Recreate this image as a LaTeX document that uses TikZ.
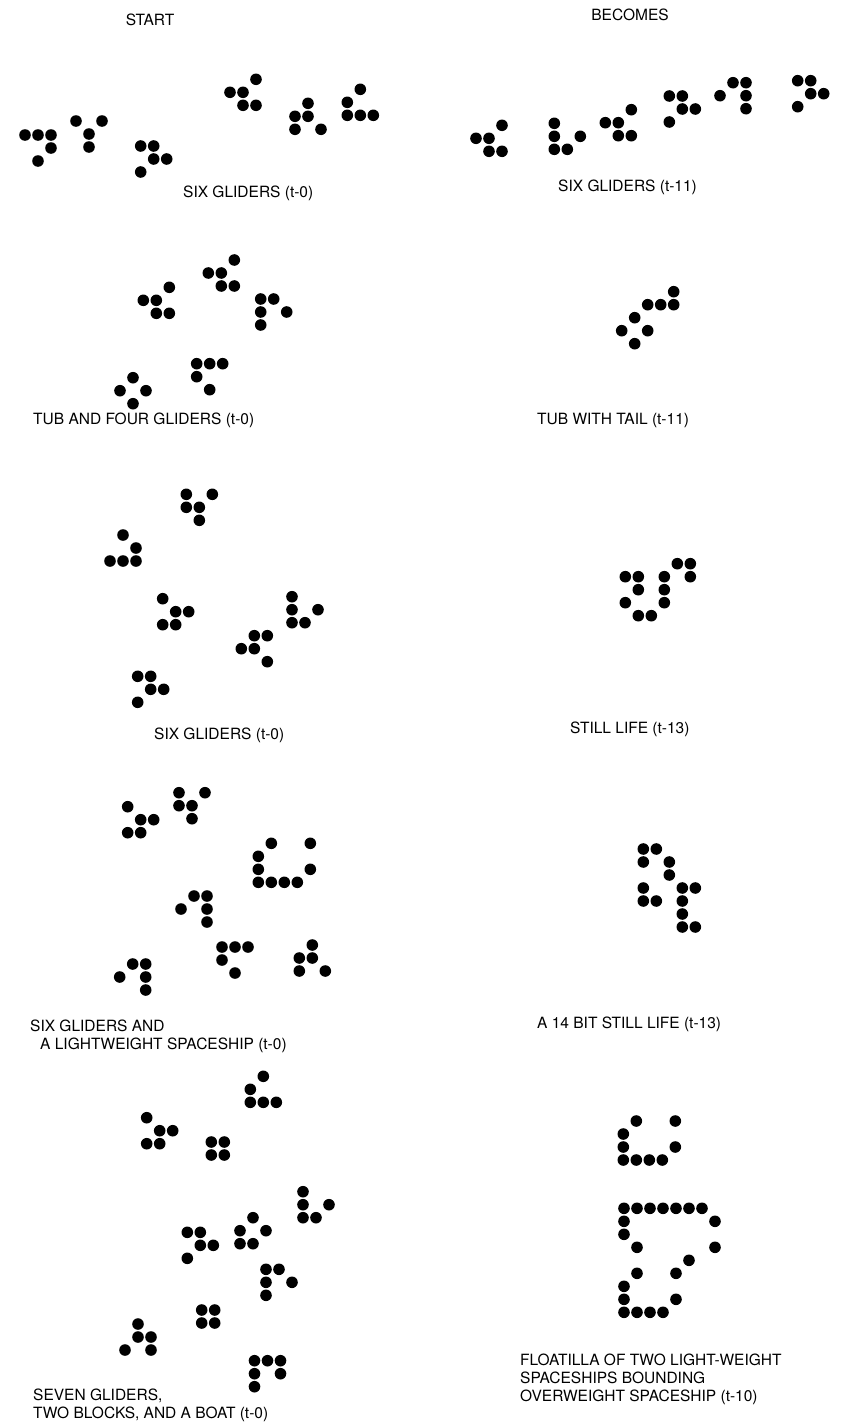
\documentclass[tikz,border=0pt]{standalone}
\usepackage{fontspec}
\setmainfont{TeX Gyre Heros}
\usepackage{tikz}
\usetikzlibrary{positioning}

\newcommand{\cellgrid}{13}
\newcommand{\lifepattern}[2]{%
  \begin{scope}[shift={(#1)}]
    \foreach \cc/\rr in {#2}
      \fill[cell] (\cc*\cellgrid,\rr*\cellgrid) circle (5.8pt);
  \end{scope}}

\begin{document}
\begin{tikzpicture}[x=1pt,y=-1pt,
  cell/.style={black},
  lbl/.style={font=\fontsize{15.5}{18}\selectfont,anchor=west,inner sep=0pt,align=left},
  head/.style={font=\fontsize{15.5}{18}\selectfont,inner sep=0pt}]
  \useasboundingbox (0,0) rectangle (856,1424);

  \node[head] (start) at (150,20) {START};
  \node[head] (becomes) at (630,15) {BECOMES};

  % six gliders
  \lifepattern{25,135}{0/0,1/0,2/0,2/1,1/2}
  \lifepattern{76,121}{0/0,2/0,1/1,1/2}
  \lifepattern{140.7,146}{0/0,1/0,1/1,2/1,0/2}
  \lifepattern{230,79.3}{2/0,0/1,1/1,1/2,2/2}
  \lifepattern{295,103.3}{1/0,0/1,1/1,0/2,2/2}
  \lifepattern{347.3,89.3}{1/0,0/1,0/2,1/2,2/2}
  \node[lbl] (l1) at (183,193) {SIX GLIDERS (t-0)};

  \lifepattern{476,125.3}{2/0,0/1,1/1,1/2,2/2}
  \lifepattern{554.3,123.3}{0/0,0/1,2/1,0/2,1/2}
  \lifepattern{605.3,109.7}{2/0,0/1,1/1,1/2,2/2}
  \lifepattern{669.3,96}{0/0,1/0,1/1,2/1,0/2}
  \lifepattern{720,82.7}{1/0,2/0,0/1,2/1,2/2}
  \lifepattern{797.7,80.7}{0/0,1/0,1/1,2/1,0/2}
  \node[lbl] (r1) at (558,187) {SIX GLIDERS (t-11)};

  % tub and four gliders
  \lifepattern{143.3,287.3}{2/0,0/1,1/1,1/2,2/2}
  \lifepattern{208.3,260}{2/0,0/1,1/1,1/2,2/2}
  \lifepattern{260.7,299}{0/0,1/0,0/1,2/1,0/2}
  \lifepattern{196.7,363.7}{0/0,1/0,2/0,0/1,1/2}
  \lifepattern{120,377.7}{1/0,0/1,2/1,1/2}
  \node[lbl] (l2) at (33,420) {TUB AND FOUR GLIDERS (t-0)};

  \lifepattern{621.7,291.7}{4/0,2/1,3/1,4/1,1/2,0/3,2/3,1/4}
  \node[lbl] (r2) at (537,420) {TUB WITH TAIL (t-11)};

  % six gliders
  \lifepattern{186.3,494.3}{0/0,2/0,0/1,1/1,1/2}
  \lifepattern{110,535}{1/0,2/1,0/2,1/2,2/2}
  \lifepattern{162.7,598.7}{0/0,1/1,2/1,0/2,1/2}
  \lifepattern{292,596.7}{0/0,0/1,2/1,0/2,1/2}
  \lifepattern{241.3,635.7}{1/0,2/0,0/1,1/1,2/2}
  \lifepattern{137.7,676.3}{0/0,1/0,1/1,2/1,0/2}
  \node[lbl] (l3) at (154,735) {SIX GLIDERS (t-0)};

  \lifepattern{625.3,563.7}{4/0,5/0,0/1,1/1,3/1,5/1,1/2,3/2,0/3,3/3,1/4,2/4}
  \node[lbl] (r3) at (570,729) {STILL LIFE (t-13)};

  % six gliders and a lightweight spaceship
  \lifepattern{127.7,806.7}{0/0,1/1,2/1,0/2,1/2}
  \lifepattern{179,792.7}{0/0,2/0,0/1,1/1,1/2}
  \lifepattern{258.3,843.3}{1/0,4/0,0/1,0/2,4/2,0/3,1/3,2/3,3/3}
  \lifepattern{181,896}{1/0,2/0,0/1,2/1,2/2}
  \lifepattern{222,947}{0/0,1/0,2/0,0/1,1/2}
  \lifepattern{299.3,945}{1/0,0/1,1/1,0/2,2/2}
  \lifepattern{119.7,964}{1/0,2/0,0/1,2/1,2/2}
  \node[lbl] (l4) at (30,1036) {SIX GLIDERS AND\\\hspace*{10pt}A LIGHTWEIGHT SPACESHIP (t-0)};

  \lifepattern{643.3,849}{0/0,1/0,0/1,2/1,2/2,0/3,3/3,4/3,0/4,1/4,3/4,3/5,3/6,4/6}
  \node[lbl] (r4) at (537,1024) {A 14 BIT STILL LIFE (t-13)};

  % seven gliders, two blocks and a boat
  \lifepattern{250.3,1076.3}{1/0,0/1,0/2,1/2,2/2}
  \lifepattern{146.7,1117.7}{0/0,1/1,2/1,0/2,1/2}
  \lifepattern{211.3,1142}{0/0,1/0,0/1,1/1}
  \lifepattern{303,1191.7}{0/0,0/1,2/1,0/2,1/2}
  \lifepattern{240,1217.7}{1/0,0/1,2/1,0/2,1/2}
  \lifepattern{187.3,1232.3}{0/0,1/0,1/1,2/1,0/2}
  \lifepattern{266,1269.3}{0/0,1/0,0/1,2/1,0/2}
  \lifepattern{201.7,1310}{0/0,1/0,0/1,1/1}
  \lifepattern{125,1324}{1/0,1/1,2/1,0/2,2/2}
  \lifepattern{254.5,1360.7}{0/0,1/0,2/0,0/1,2/1,0/2}
  \node[lbl] (l5) at (33,1405.5) {SEVEN GLIDERS,\\TWO BLOCKS, AND A BOAT (t-0)};

  \lifepattern{623.3,1121}{1/0,4/0,0/1,0/2,4/2,0/3,1/3,2/3,3/3}
  \lifepattern{624,1208.3}{0/0,1/0,2/0,3/0,4/0,5/0,6/0,0/1,7/1,0/2,1/3,7/3,5/4,1/5,4/5,0/6,0/7,4/7,0/8,1/8,2/8,3/8}
  \node[lbl] (r5) at (520,1379) {FLOATILLA OF TWO LIGHT-WEIGHT\\SPACESHIPS BOUNDING\\OVERWEIGHT SPACESHIP (t-10)};
\end{tikzpicture}
\end{document}
